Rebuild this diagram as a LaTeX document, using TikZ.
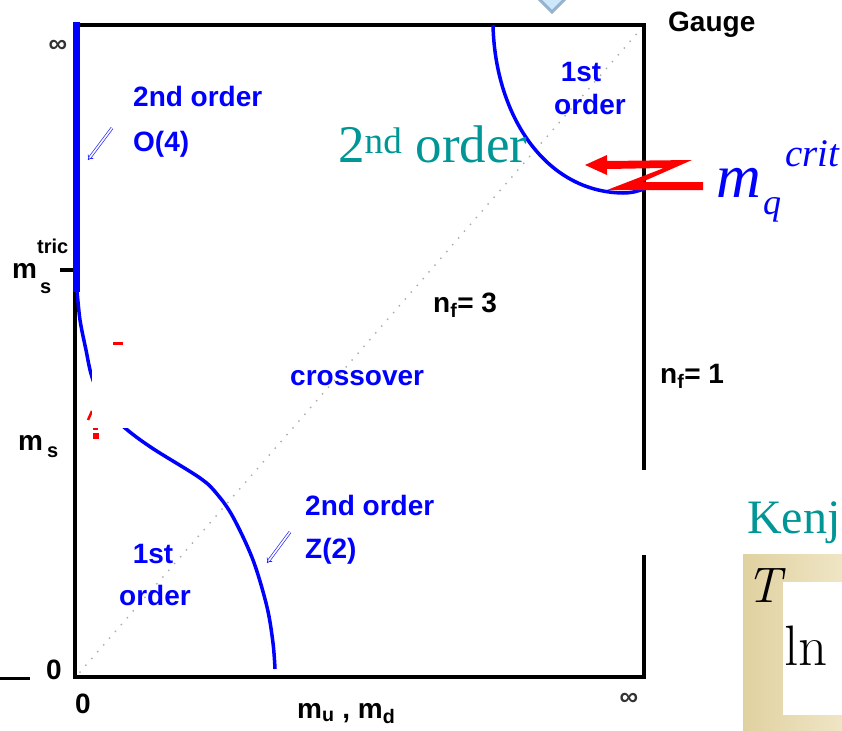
\documentclass[tikz,border=0pt]{standalone}
\usepackage[no-math]{fontspec}
\usepackage{xcolor}
\usetikzlibrary{arrows.meta,calc}
\newfontfamily\arialf{Liberation Sans}
\newfontfamily\timesf{Liberation Serif}
\definecolor{tealtxt}{RGB}{0,150,150}
\definecolor{beigeL}{RGB}{224,209,160}
\definecolor{beigeR}{RGB}{240,231,200}
\definecolor{chevfill}{RGB}{205,232,250}
\definecolor{chevline}{RGB}{150,178,205}

\begin{document}
\begin{tikzpicture}[x=1pt,y=-1pt,
  lbl/.style={inner sep=0pt, font=\arialf\bfseries\fontsize{28}{30}\selectfont},
  bluelbl/.style={lbl, text=blue},
  smalllbl/.style={inner sep=0pt, font=\arialf\bfseries\fontsize{20}{22}\selectfont},
  serif/.style={inner sep=0pt, font=\timesf\fontsize{#1}{#1}\selectfont},
  lmtxt/.style={inner sep=0pt, font=\rmfamily\fontsize{#1}{#1}\selectfont},
  curve/.style={blue, line width=3.5pt},
  pointer/.style={blue!85, line width=0.7pt, double, double distance=1.6pt, -{Implies}},
]
\useasboundingbox (0,0) rectangle (842,730);

% frame of the phase diagram
\coordinate (O) at (75,677);
\coordinate (TL) at (75,25);
\coordinate (TR) at (644,25);
\coordinate (BR) at (644,677);
\coordinate (gapT) at (644,470);
\coordinate (gapB) at (644,555);
\draw[line width=4.5pt] (gapT) -- (TR) -- (TL) -- (O) -- (BR) -- (gapB);
\draw[line width=3pt] (0,678) -- (30,678);
\draw[line width=4pt] (60,270) -- (75,270);

% n_f = 3 diagonal
\coordinate (D0) at (80,672);
\coordinate (D1) at (640,30);
\draw[gray!65, line width=2pt, line cap=round, dash pattern=on 0pt off 9pt] (D0) -- (D1);

% critical lines
\draw[blue, line width=7pt] (76.5,22.5) -- (76.5,292);
\draw[curve] plot[smooth, tension=0.55] coordinates {(77,290) (80,320) (86,350) (92,377) (105,408) (125,428) (152,448) (200,478) (217,494) (233,517) (253,560) (267,607) (273,643) (275,669)};
\draw[curve] (493,25) .. controls (495,115) and (545,192) .. (623,193) .. controls (632,193) and (638,191) .. (644,189);

% covered part
\fill[red] (113,342) rectangle (123,345);
\draw[red, line width=2.5pt] (88,420) -- (92,411);
\fill[red] (93,428) rectangle (98,430);
\fill[red] (93,433) rectangle (99,439);
\fill[white] (92,345) rectangle (250,428);

% chevron at the top
\filldraw[fill=chevfill, draw=chevline, line width=3pt] (534,-6) -- (552,12) -- (570,-6);

% red arrow
\fill[red] (585,165) -- (607,155) -- (607,161) -- (692,160) -- (642,182) -- (703,182) -- (703,190) -- (607,190) -- (664,168) -- (607,169) -- (607,175) -- cycle;

% labels
\node[lbl, anchor=base west] (gauge) at (668,32) {Gauge};
\node[lbl, text=black!80, anchor=center] (infL) at (58,46) {\fontsize{26}{26}\selectfont ∞};
\node[lbl, text=black!80, anchor=center] (infR) at (629,699) {\fontsize{26}{26}\selectfont ∞};
\node[lbl, anchor=base west] (zeroL) at (46,679) {0};
\node[lbl, anchor=base west] (zeroB) at (75,713) {0};
\node[lbl, anchor=base west] (mud) at (297,718) {m\textsubscript{u} , m\textsubscript{d}};
\node[lbl, anchor=base west] (msm) at (18,450) {m};
\node[smalllbl, anchor=base west] (mss) at (47,457) {s};
\node[lbl, anchor=base west] (mtm) at (12,278) {m};
\node[smalllbl, anchor=base west] (mts) at (40,293) {s};
\node[smalllbl, anchor=base west] (mtt) at (37,253) {tric};
\node[lbl, anchor=base west] (nf3) at (433,312) {n\textsubscript{f}= 3};
\node[lbl, anchor=base west] (nf1) at (660,383) {n\textsubscript{f}= 1};

\node[bluelbl, anchor=base west] (so1) at (133,107) {2nd order};
\node[bluelbl, anchor=base west] (o4) at (133,152) {O(4)};
\node[bluelbl, anchor=base] (fo1a) at (581,82) {1st};
\node[bluelbl, anchor=base] (fo1b) at (590,115) {order};
\node[bluelbl, anchor=base west] (cross) at (290,385) {crossover};
\node[bluelbl, anchor=base west] (so2) at (305,515) {2nd order};
\node[bluelbl, anchor=base west] (z2) at (305,558) {Z(2)};
\node[bluelbl, anchor=base] (fo2a) at (153,563) {1st};
\node[bluelbl, anchor=base] (fo2b) at (155,605) {order};

\coordinate (o4tail) at (112,128);
\coordinate (o4head) at (88,160);
\coordinate (z2tail) at (290,532);
\coordinate (z2head) at (267,563);
\draw[pointer] (o4tail) -- (o4head);
\draw[pointer] (z2tail) -- (z2head);

\node[serif=53, text=tealtxt, anchor=base west] (so3) at (338,163) {2\textsuperscript{nd} order};
\node[serif=62, text=blue, anchor=base west] (mq) at (716,197) {\itshape m};
\node[serif=36, text=blue, anchor=base west] (mqq) at (763,214) {\itshape q};
\node[serif=39, text=blue, anchor=base west] (mqc) at (785,167) {\itshape crit};

% box on the right
\node[serif=48, text=tealtxt, anchor=base west] (kenj) at (747,533) {Kenj};
\shade[left color=beigeL, right color=beigeR] (743,554) rectangle (850,735);
\fill[white] (783,582) rectangle (850,715);
\node[lmtxt=50, anchor=base west] (tT) at (746,602) {\itshape T};
\node[lmtxt=57, anchor=base west] (tln) at (784,665) {ln};
\end{tikzpicture}
\end{document}
